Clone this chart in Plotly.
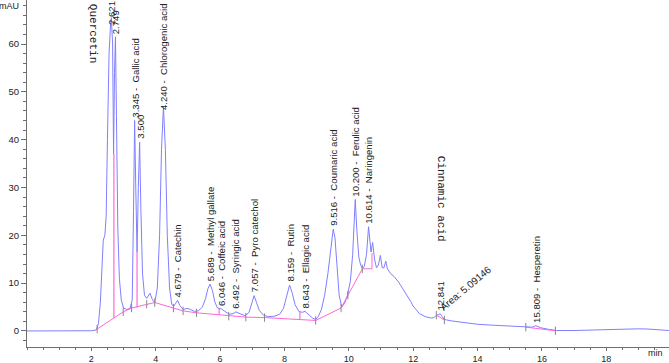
import plotly.graph_objects as go

# ---------------- data ----------------
time_min = [0.0, 0.5, 1.0, 1.5, 2.0, 2.15, 2.22, 2.28, 2.33, 2.37, 2.42, 2.46, 2.50, 2.55, 2.60, 2.621,
            2.66, 2.69, 2.72, 2.749, 2.78, 2.82, 2.87, 2.93, 3.0, 3.1, 3.2, 3.27, 3.31, 3.345, 3.38,
            3.42, 3.46, 3.500, 3.54, 3.59, 3.65, 3.72, 3.82, 3.9, 3.97, 4.05, 4.12, 4.18, 4.240, 4.30,
            4.36, 4.43, 4.50, 4.56, 4.62, 4.679, 4.75, 4.85, 4.97, 5.05, 5.2, 5.32, 5.45, 5.55, 5.62,
            5.689, 5.76, 5.84, 5.92, 6.0, 6.046, 6.15, 6.28, 6.4, 6.492, 6.62, 6.78, 6.9, 6.98, 7.057,
            7.13, 7.22, 7.35, 7.5, 7.7, 7.85, 7.97, 8.06, 8.159, 8.24, 8.33, 8.45, 8.55, 8.643, 8.75,
            8.87, 8.97, 9.05, 9.15, 9.25, 9.35, 9.44, 9.516, 9.57, 9.63, 9.7, 9.78, 9.87, 9.96, 10.05,
            10.12, 10.200, 10.25, 10.31, 10.36, 10.42, 10.48, 10.55, 10.614, 10.66, 10.69, 10.74, 10.8,
            10.86, 10.92, 10.98, 11.04, 11.09, 11.15, 11.2, 11.3, 11.42, 11.55, 11.68, 11.8, 11.92,
            12.0, 12.1, 12.2, 12.38, 12.55, 12.65, 12.72, 12.78, 12.841, 12.9, 12.97, 13.2, 13.5, 14.0,
            14.5, 15.0, 15.5, 15.7, 15.809, 15.95, 16.2, 16.45, 17.0, 17.5, 18.0, 18.5, 19.0, 19.3,
            19.6, 19.95]
signal_mau = [0.0, 0.0, 0.0, 0.0, 0.05, 0.2, 1.5, 6.0, 14.0, 19.0, 20.0, 24.0, 40.0, 58.0, 64.5, 65.5,
              60.0, 37.0, 54.0, 61.5, 45.0, 22.0, 11.0, 6.5, 4.8, 4.5, 4.7, 6.5, 25.0, 44.0, 30.0,
              16.5, 30.0, 39.5, 25.0, 12.0, 7.5, 6.8, 7.9, 6.5, 5.9, 9.0, 20.0, 38.0, 46.8, 38.0,
              20.0, 9.0, 5.5, 5.2, 5.8, 6.4, 5.3, 4.5, 4.7, 4.6, 4.1, 4.2, 5.0, 6.8, 8.8,
              9.8, 8.5, 6.0, 4.8, 4.7, 4.6, 4.1, 3.5, 3.6, 4.0, 3.6, 3.2, 3.9, 5.6, 7.4,
              6.0, 4.3, 3.3, 3.0, 3.1, 3.5, 4.7, 7.0, 9.6, 8.0, 5.5, 4.1, 3.9, 4.1, 3.5,
              2.7, 2.4, 3.0, 4.5, 7.5, 12.0, 17.5, 21.3, 19.5, 13.5, 7.5, 5.0, 5.8, 7.5, 10.5,
              16.0, 27.5, 21.0, 15.5, 14.0, 13.0, 13.5, 16.0, 21.8, 18.0, 16.5, 18.5, 15.0,
              13.2, 13.8, 15.8, 13.2, 13.2, 14.6, 13.0, 12.0, 11.3, 10.2, 8.8, 7.6, 6.2,
              5.2, 4.4, 3.6, 3.0, 2.7, 2.8, 3.3, 3.4, 3.6, 3.0, 2.4, 2.1, 1.8, 1.4,
              1.2, 1.0, 0.8, 0.8, 1.1, 0.7, 0.35, 0.1, 0.1, 0.2, 0.25, 0.35, 0.45, 0.4,
              0.2, 0.1]

# integration baseline (magenta), None separates segments
baseline_t = [2.18, 2.99, 3.25, 3.72, 3.97, 4.55, 4.85, 5.27, 5.96, 6.27, 6.8, 7.38, 8.48, 8.97, 9.76,
              9.97, 10.42, 10.72, 10.72, None, 12.72, 12.97, None, 15.5, 16.42]
baseline_y = [0.4, 4.0, 4.8, 5.6, 5.95, 4.8, 4.2, 3.8, 3.4, 3.1, 2.9, 2.8, 2.4, 2.2, 4.8,
              7.5, 13.0, 13.0, 16.3, None, 3.3, 2.3, None, 0.8, 0.05]
# peak separation drop lines
drop_t = [2.70, 3.42, 5.97, 8.48]
drop_lo = [2.7, 4.9, 3.4, 2.4]
drop_hi = [37.0, 16.5, 4.7, 4.0]
# integration event tick marks
event_t = [2.18, 2.99, 3.25, 3.72, 3.97, 4.55, 4.85, 5.27, 6.27, 6.8, 7.38, 8.97, 9.76, 9.97, 10.42,
           12.72, 12.97, 15.5, 16.42]
event_y = [0.4, 4.0, 4.8, 5.6, 5.95, 4.8, 4.2, 3.8, 3.1, 2.9, 2.8, 2.2, 4.8, 7.5, 13.0,
           3.3, 2.3, 0.8, 0.05]

# peak labels
peak_rt = [2.621, 2.749, 3.345, 3.500, 4.240, 4.679, 5.689, 6.046, 6.492, 7.057, 8.159, 8.643,
           9.516, 10.200, 10.614, 12.841, 15.809]
peak_name = ["", "", "Gallic acid", "", "Chlorogenic acid", "Catechin", "Methyl gallate",
             "Coffeic acid", "Syringic acid", "Pyro catechol", "Rutin", "Ellagic acid",
             "Coumaric acid", "Ferulic acid", "Naringenin", "", "Hesperetin"]
area_text = "Area: 5.09146"
x_ticks = [2, 4, 6, 8, 10, 12, 14, 16, 18]
y_ticks = [0, 10, 20, 30, 40, 50, 60]

# ---------------- figure ----------------
TRACE = "#7f7fff"
BASE = "#ff66d9"
AXIS = "#6e6e6e"
TXT = "#222222"
SANS = "Arial, 'Liberation Sans', sans-serif"
MONO = "'Courier New', 'Liberation Mono', monospace"

fig = go.Figure()
fig.add_trace(go.Scatter(x=time_min, y=signal_mau, mode="lines",
                         line=dict(color=TRACE, width=1), hoverinfo="skip"))
fig.add_trace(go.Scatter(x=baseline_t, y=baseline_y, mode="lines",
                         line=dict(color=BASE, width=1), hoverinfo="skip", connectgaps=False))
dx, dy = [], []
for t, lo, hi in zip(drop_t, drop_lo, drop_hi):
    dx += [t, t, None]
    dy += [lo, hi, None]
fig.add_trace(go.Scatter(x=dx, y=dy, mode="lines", line=dict(color=BASE, width=1.2),
                         hoverinfo="skip"))
fig.add_trace(go.Scatter(x=event_t, y=event_y, mode="markers",
                         marker=dict(symbol="line-ns", size=6, line=dict(color="#888888", width=1)),
                         hoverinfo="skip"))

annotations = []
for rt, name in zip(peak_rt, peak_name):
    # label starts at the height of the signal at the peak
    h = signal_mau[min(range(len(time_min)), key=lambda i: abs(time_min[i] - rt))]
    txt = f"{rt:.3f} -  {name}" if name else f"{rt:.3f}"
    shift = 2
    if rt == 2.621:
        shift = -8
    elif rt == 4.240:
        shift = -4
    annotations.append(dict(x=rt, y=h, xref="x", yref="y", text=txt, showarrow=False,
                            textangle=-90, xanchor="center", yanchor="bottom", yshift=shift,
                            font=dict(family=SANS, size=9.6, color=TXT), borderpad=0))
annotations.append(dict(x=2.04, y=62.2, xref="x", yref="y", text="Quercetin", showarrow=False,
                        textangle=90, font=dict(family=MONO, size=11, color=TXT)))
annotations.append(dict(x=12.87, y=27.6, xref="x", yref="y", text="Cinnamic acid", showarrow=False,
                        textangle=90, font=dict(family=MONO, size=11, color=TXT)))
annotations.append(dict(x=13.62, y=8.9, xref="x", yref="y", text=area_text, showarrow=False,
                        textangle=-40, font=dict(family=SANS, size=10, color=TXT)))
annotations.append(dict(x=0, y=1, xref="paper", yref="paper", text="mAU", showarrow=False,
                        xanchor="right", yanchor="top", xshift=-6, yshift=1,
                        font=dict(family=SANS, size=9, color=TXT)))
annotations.append(dict(x=1, y=-0.016, xref="paper", yref="paper", text="min", showarrow=False,
                        xanchor="right", yanchor="middle", xshift=-4,
                        font=dict(family=SANS, size=9, color=TXT)))

fig.update_layout(
    width=669, height=363,
    margin=dict(l=27, r=0, t=0, b=16, pad=0),
    paper_bgcolor="white", plot_bgcolor="white",
    showlegend=False,
    annotations=annotations,
    xaxis=dict(range=[0, 19.95], tickmode="array", tickvals=x_ticks, automargin=False,
               showgrid=False, zeroline=False, showline=True, linecolor=AXIS, linewidth=1,
               ticks="outside", ticklen=3, tickcolor=AXIS,
               minor=dict(dtick=0.5, ticks="outside", ticklen=2, tickcolor=AXIS),
               tickfont=dict(family=SANS, size=9, color=TXT)),
    yaxis=dict(range=[-3.35, 69.2], tickmode="array", tickvals=y_ticks, automargin=False,
               showgrid=False, zeroline=False, showline=True, linecolor=AXIS, linewidth=1,
               ticks="outside", ticklen=5, tickcolor=AXIS,
               minor=dict(dtick=2, ticks="outside", ticklen=3, tickcolor=AXIS),
               tickfont=dict(family=SANS, size=9.5, color=TXT)),
)

fig.write_html("out.html", config={"displayModeBar": False, "staticPlot": True},
               post_script="document.body.style.margin='0';document.body.style.overflow='hidden';")
